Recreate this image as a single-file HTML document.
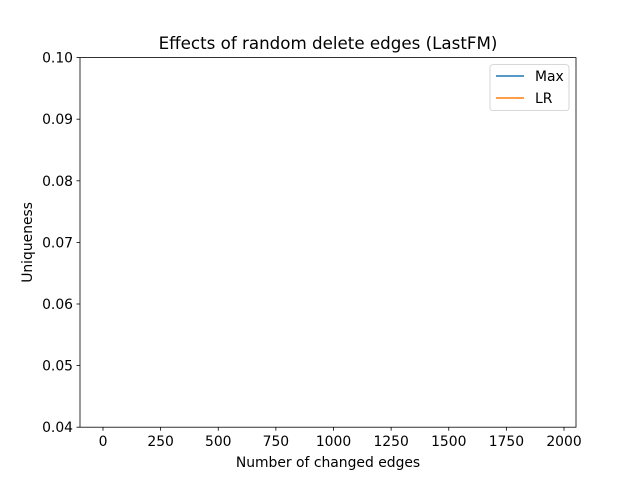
<!DOCTYPE html>
<html><head><meta charset="utf-8"><style>
body{margin:0;background:#fff;}
svg{display:block;font-family:"DejaVu Sans","Liberation Sans",sans-serif;}
</style></head><body>
<svg id="chart" width="640" height="480">
<rect width="640" height="480" fill="#fff"/>
<defs><clipPath id="clip"><rect x="80" y="57.6" width="496" height="369.6"/></clipPath></defs>
<text x="328" y="49" font-size="16.7" text-anchor="middle">Effects of random delete edges (LastFM)</text>
<g id="plot" clip-path="url(#clip)"></g>
<g id="axes"></g>
<rect x="80" y="57.6" width="496" height="369.6" fill="none" stroke="#000" stroke-width="0.8"/>
<text x="328" y="467" font-size="13.9" text-anchor="middle">Number of changed edges</text>
<text transform="translate(32,242.4) rotate(-90)" font-size="13.9" text-anchor="middle">Uniqueness</text>
<g>
<rect x="490" y="64.6" width="79" height="46" rx="3" fill="#fff" stroke="#ccc" stroke-width="0.8"/>
<line x1="496" y1="76" x2="524" y2="76" stroke="#1f77b4" stroke-width="1.5"/>
<text x="535" y="80.8" font-size="13.9">Max</text>
<line x1="496" y1="98" x2="524" y2="98" stroke="#ff7f0e" stroke-width="1.5"/>
<text x="535" y="102.8" font-size="13.9">LR</text>
</g>
</svg>
<script>
const xCategories=[0,250,500,750,1000,1250,1500,1750,2000];
const maxValues=[0,0,0,0,0,0,0,0,0];
const lrValues=[0,0,0,0,0,0,0,0,0];
const xTicks=[0,250,500,750,1000,1250,1500,1750,2000];
const yTicks=[0.04,0.05,0.06,0.07,0.08,0.09,0.10];
const NS="http://www.w3.org/2000/svg";
const X=v=>103+v*0.2305;
const Y=v=>427.2-(v-0.04)/0.06*369.6;
const axes=document.getElementById('axes'),plot=document.getElementById('plot');
function mk(t,a,p){const e=document.createElementNS(NS,t);for(const k in a)e.setAttribute(k,a[k]);p.appendChild(e);return e;}
xTicks.forEach(t=>{
 const l=mk('line',{x1:X(t),x2:X(t),y1:427.2,y2:430.7,stroke:'#000','stroke-width':0.8},axes);
 
 
 const s=mk('text',{x:X(t),y:446,'font-size':13.9,'text-anchor':'middle'},axes);s.textContent=t;
 
 
});
yTicks.forEach(t=>{
 const l=mk('line',{x1:76.5,x2:80,y1:Y(t),y2:Y(t),stroke:'#000','stroke-width':0.8},axes);
 
 
 const s=mk('text',{x:73,y:Y(t)+5,'font-size':13.9,'text-anchor':'end'},axes);s.textContent=t.toFixed(2);
 
 
});
[[maxValues,'#1f77b4','max-line'],[lrValues,'#ff7f0e','lr-line']].forEach(([vals,c,n])=>{
 const p=mk('polyline',{points:vals.map((v,i)=>X(xCategories[i])+','+Y(v)).join(' '),fill:'none',stroke:c,'stroke-width':1.5},plot);
 
 
});
</script>
</body></html>
